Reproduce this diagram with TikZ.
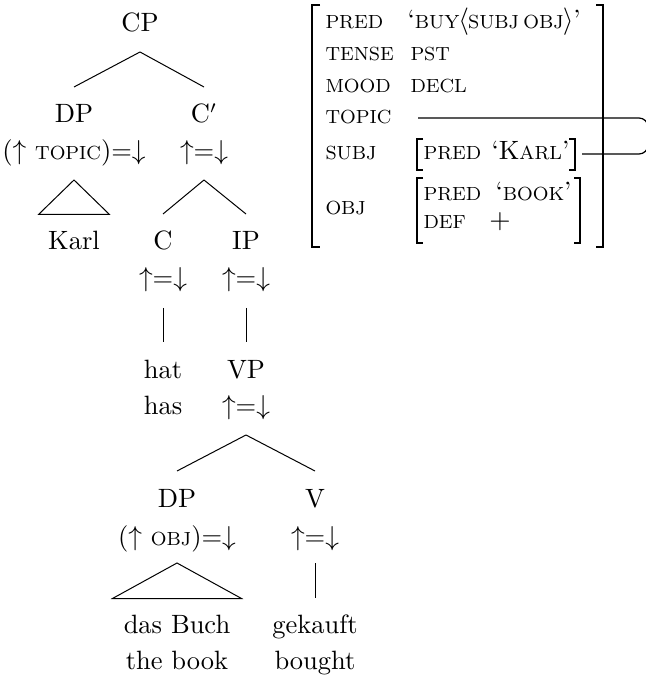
\documentclass[tikz,border=0pt]{standalone}
\usetikzlibrary{calc}
\newcommand{\fsc}[1]{{\fontsize{7.6}{10}\selectfont #1}}
\begin{document}
\begin{tikzpicture}[x=0.4pt,y=-0.4pt]
  \tikzstyle{every node}=[font=\fontsize{10.6}{13}\selectfont, inner sep=0]
  \tikzstyle{tn}=[anchor=base]
  \tikzstyle{av}=[anchor=base west]
  \tikzstyle{branch}=[line width=0.4pt]
  \tikzstyle{obrk}=[line width=1.05pt]
  \tikzstyle{ibrk}=[line width=0.65pt]
  \useasboundingbox (0,0) rectangle (645,677);

  %Tree: categories and annotations
  \node[tn] (cp) at (140,32) {CP};
  \node[tn] (dp) at (74,123) {DP};
  \node[tn] (dpf) at (74,160) {($\uparrow$ \fsc{TOPIC})=$\downarrow$};
  \node[tn] (cbar) at (204,123) {C$'$};
  \node[tn] (cbarf) at (204,160) {$\uparrow$=$\downarrow$};
  \node[tn] (karl) at (74,250) {Karl};
  \node[tn] (c) at (163,250) {C};
  \node[tn] (cf) at (163,287) {$\uparrow$=$\downarrow$};
  \node[tn] (ip) at (246,250) {IP};
  \node[tn] (ipf) at (246,287) {$\uparrow$=$\downarrow$};
  \node[tn] (hat) at (163,378) {hat};
  \node[tn] (has) at (163,414) {has};
  \node[tn] (vp) at (246,378) {VP};
  \node[tn] (vpf) at (246,414) {$\uparrow$=$\downarrow$};
  \node[tn] (dpo) at (177,507) {DP};
  \node[tn] (dpof) at (177,545) {($\uparrow$ \fsc{OBJ})=$\downarrow$};
  \node[tn] (v) at (315,507) {V};
  \node[tn] (vf) at (315,545) {$\uparrow$=$\downarrow$};
  \node[tn] (buch) at (177,633) {das Buch};
  \node[tn] (thebook) at (177,669) {the book};
  \node[tn] (gekauft) at (315,633) {gekauft};
  \node[tn] (bought) at (315,669) {bought};

  %Tree: branches
  \draw[branch] ($(cp.base)+(0,20)$) -- ($(dp.base)+(0,-36)$);
  \draw[branch] ($(cp.base)+(0,20)$) -- ($(cbar.base)+(0,-36)$);
  \draw[branch] ($(dpf.base)+(0,20)$) -- ($(karl.base)+(-35.5,-35.5)$)
  -- ($(karl.base)+(35.5,-35.5)$) -- cycle;
  \draw[branch] ($(cbarf.base)+(0,20)$) -- ($(c.base)+(0,-36)$);
  \draw[branch] ($(cbarf.base)+(0,20)$) -- ($(ip.base)+(0,-36)$);
  \draw[branch] ($(cf.base)+(0,21)$) -- ($(hat.base)+(0,-36)$);
  \draw[branch] ($(ipf.base)+(0,21)$) -- ($(vp.base)+(0,-36)$);
  \draw[branch] ($(vpf.base)+(0,21)$) -- ($(dpo.base)+(0,-36)$);
  \draw[branch] ($(vpf.base)+(0,21)$) -- ($(v.base)+(0,-36)$);
  \draw[branch] ($(dpof.base)+(0,18)$) -- ($(buch.base)+(-64.5,-34.5)$)
  -- ($(buch.base)+(64.5,-34.5)$) -- cycle;
  \draw[branch] ($(vf.base)+(0,18)$) -- ($(gekauft.base)+(0,-35)$);

  %F-structure: attributes and values
  \node[av] (apred) at (325,29) {\fsc{PRED}};
  \node[av] (vpred) at (407,29) {`\fsc{BUY}\kern-0.4pt$\langle$\kern-0.4pt\fsc{SUBJ}\,\fsc{OBJ}\kern-0.4pt$\rangle$'};
  \node[av] (atense) at (325,61) {\fsc{TENSE}};
  \node[av] (vtense) at (410,61) {\fsc{PST}};
  \node[av] (amood) at (325,93) {\fsc{MOOD}};
  \node[av] (vmood) at (410,93) {\fsc{DECL}};
  \node[av] (atopic) at (325,124) {\fsc{TOPIC}};
  \node[av] (asubj) at (325,160) {\fsc{SUBJ}};
  \node[av] (spred) at (423,160) {\fsc{PRED}};
  \node[av] (skarl) at (491,160) {`K\fsc{ARL}'};
  \node[av] (aobj) at (325,215) {\fsc{OBJ}};
  \node[av] (opred) at (423,201) {\fsc{PRED}};
  \node[av] (obook) at (495,201) {`\fsc{BOOK}'};
  \node[av] (odef) at (423,229) {\fsc{DEF}};
  \node[tn] (oplus) at (500,229) {$+$};

  %F-structure: brackets
  \draw[obrk] (320,5) -- (312,5) -- (312,247) -- (320,247);
  \draw[obrk] (596,5) -- (603,5) -- (603,247) -- (596,247);
  \draw[ibrk] (423,139) -- (417,139) -- (417,170) -- (423,170);
  \draw[ibrk] (569,139) -- (575,139) -- (575,170) -- (569,170);
  \draw[ibrk] (423,178) -- (417,178) -- (417,243) -- (423,243);
  \draw[ibrk] (574,178) -- (580,178) -- (580,243) -- (574,243);

  %Structure sharing: TOPIC = SUBJ
  \coordinate (topicend) at (418,118);
  \coordinate (subjend) at (582,154);
  \draw[line width=0.5pt, rounded corners=3.6pt] (topicend) -- (648,118) |- (subjend);
\end{tikzpicture}
\end{document}
